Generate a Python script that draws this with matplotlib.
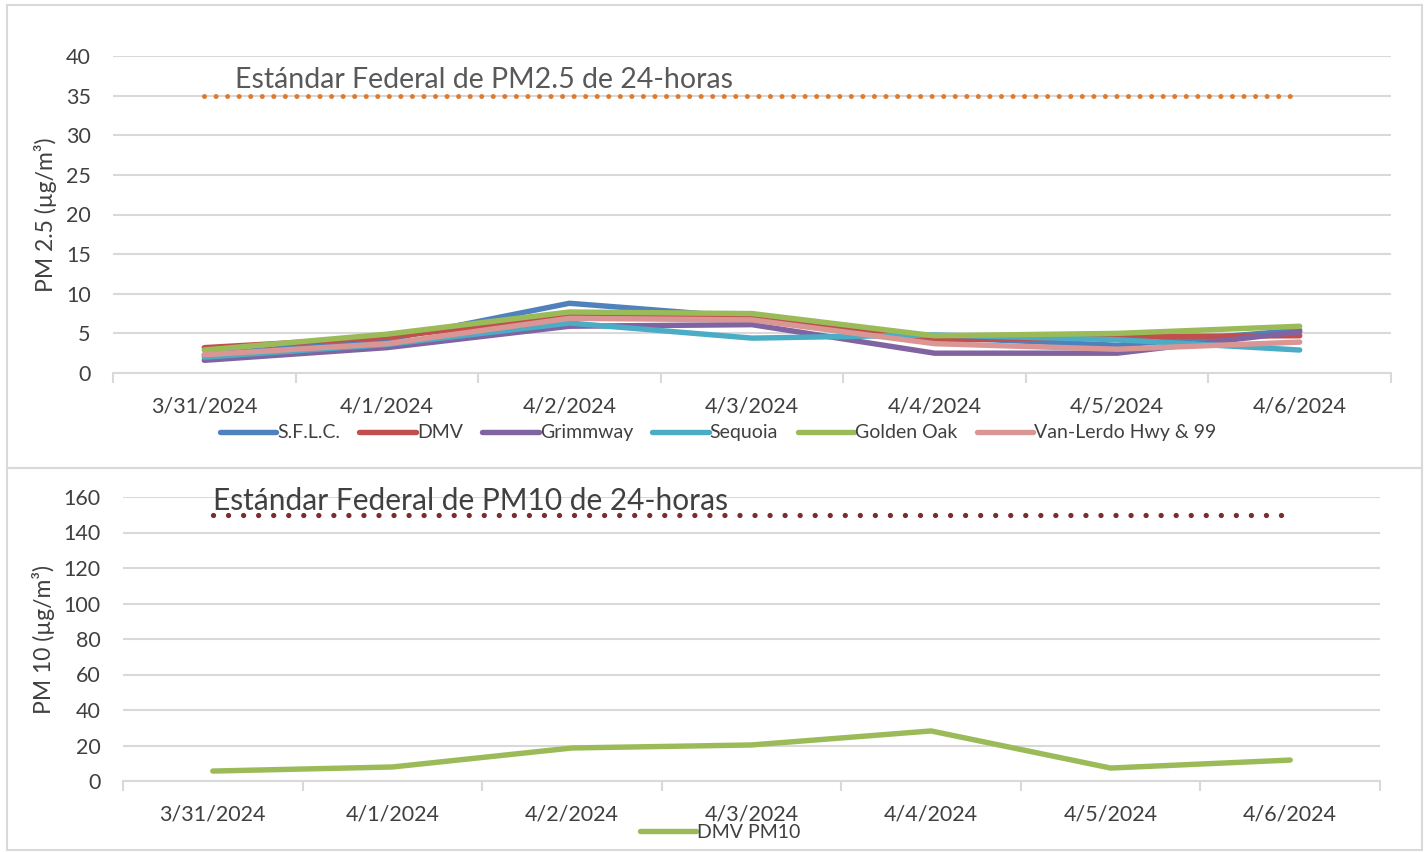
import matplotlib.pyplot as plt
from matplotlib.patches import Rectangle

W, H = 1425, 852

dates = ['3/31/2024', '4/1/2024', '4/2/2024', '4/3/2024', '4/4/2024', '4/5/2024', '4/6/2024']

# PM2.5 by site (ug/m3)
sflc = [2.3, 4.2, 8.8, 7.0, 4.5, 3.5, 5.4]
dmv = [3.2, 4.5, 7.2, 6.9, 4.1, 4.6, 4.7]
grimmway = [1.6, 3.2, 5.9, 6.1, 2.5, 2.5, 5.2]
sequoia = [2.0, 3.6, 6.3, 4.4, 4.8, 4.2, 2.9]
golden_oak = [2.9, 4.9, 7.7, 7.5, 4.7, 5.0, 5.9]
van_lerdo = [2.3, 3.7, 6.9, 6.7, 3.7, 3.0, 3.9]

site_names = ['S.F.L.C.', 'DMV', 'Grimmway', 'Sequoia', 'Golden Oak', 'Van-Lerdo Hwy & 99']
site_colors = ['#4F81BD', '#C0504D', '#8064A2', '#4BACC6', '#9BBB59', '#D99694']

pm25_std = 35
pm10_std = 150

# PM10 at DMV
dmv_pm10 = [5.6, 7.9, 18.6, 20.3, 28.2, 7.3, 11.8]

plt.rcParams['font.family'] = ['Lato', 'DejaVu Sans']
txt = '#404040'
grid_c = '#D9D9D9'


def px_axes(fig, x0, x1, ytop, ybot):
    return fig.add_axes([x0 / W, 1 - ybot / H, (x1 - x0) / W, (ybot - ytop) / H])


def style(ax, ymax, ystep):
    ax.set_xlim(-0.5, len(dates) - 0.5)
    ax.set_ylim(0, ymax)
    ax.set_yticks(range(0, ymax + 1, ystep))
    ax.set_xticks(range(len(dates)))
    ax.set_xticklabels(dates)
    ax.set_xticks([i - 0.5 for i in range(len(dates) + 1)], minor=True)
    ax.tick_params(axis='x', which='major', length=0, pad=17, labelsize=15.5, labelcolor=txt)
    ax.tick_params(axis='x', which='minor', length=7, width=1.5, color=grid_c)
    ax.tick_params(axis='y', length=0, pad=16, labelsize=15.5, labelcolor=txt)
    for s in ['top', 'right', 'left']:
        ax.spines[s].set_visible(False)
    ax.spines['bottom'].set_color(grid_c)
    ax.spines['bottom'].set_linewidth(1.5)
    ax.grid(axis='y', color=grid_c, linewidth=1.5)
    ax.set_axisbelow(True)


fig = plt.figure(figsize=(W / 100, H / 100), dpi=100)

fig.patches.append(Rectangle((7 / W, 1 - 468 / H), 1415 / W, 463 / H, transform=fig.transFigure,
                             fill=False, edgecolor=grid_c, linewidth=1.5))
fig.patches.append(Rectangle((7 / W, 1 - 850 / H), 1415 / W, 382 / H, transform=fig.transFigure,
                             fill=False, edgecolor=grid_c, linewidth=1.5))

# top chart
ax1 = px_axes(fig, 113, 1391, 56, 373)
style(ax1, 40, 5)
x = list(range(len(dates)))
series = [sflc, dmv, grimmway, sequoia, golden_oak, van_lerdo]
handles = []
for vals, name, col in zip(series, site_names, site_colors):
    h, = ax1.plot(x, vals, color=col, linewidth=3.9, solid_capstyle='round',
                  solid_joinstyle='round', label=name)
    handles.append(h)
ax1.plot([0, 6], [pm25_std, pm25_std], color='#E07B2E', linewidth=3.6,
         linestyle=(0, (0.01, 2.3)), dash_capstyle='round')
ax1.text(0.17, 37.0, 'Estándar Federal de PM2.5 de 24-horas', fontsize=20.5, color='#595959',
         va='center', ha='left')
ax1.set_ylabel('PM 2.5 (µg/m³)', fontsize=16.5, color=txt, labelpad=6)
ax1.legend(handles=handles, loc='center', bbox_to_anchor=(718 / W, 1 - 433 / H),
           bbox_transform=fig.transFigure, ncol=6, frameon=False, fontsize=14,
           handlelength=2.9, handletextpad=0.05, columnspacing=1.0, labelcolor=txt)

# bottom chart
ax2 = px_axes(fig, 123, 1380, 497, 781)
style(ax2, 160, 20)
h2, = ax2.plot(x, dmv_pm10, color='#9BBB59', linewidth=3.9, solid_capstyle='round',
               solid_joinstyle='round', label='DMV PM10')
ax2.plot([0, 5.96], [pm10_std, pm10_std], color='#7B2C2C', linewidth=3.8,
         linestyle=(0, (0.01, 2.84)), dash_capstyle='round')
ax2.text(0.0, 157.5, 'Estándar Federal de PM10 de 24-horas', fontsize=21.5, color=txt,
         va='center', ha='left')
ax2.set_ylabel('PM 10 (µg/m³)', fontsize=16.5, color=txt, labelpad=6)
ax2.legend(handles=[h2], loc='center', bbox_to_anchor=(720 / W, 1 - 832 / H),
           bbox_transform=fig.transFigure, frameon=False, fontsize=14,
           handlelength=2.9, handletextpad=0.05, labelcolor=txt)

fig.savefig('out.png', dpi=100)
